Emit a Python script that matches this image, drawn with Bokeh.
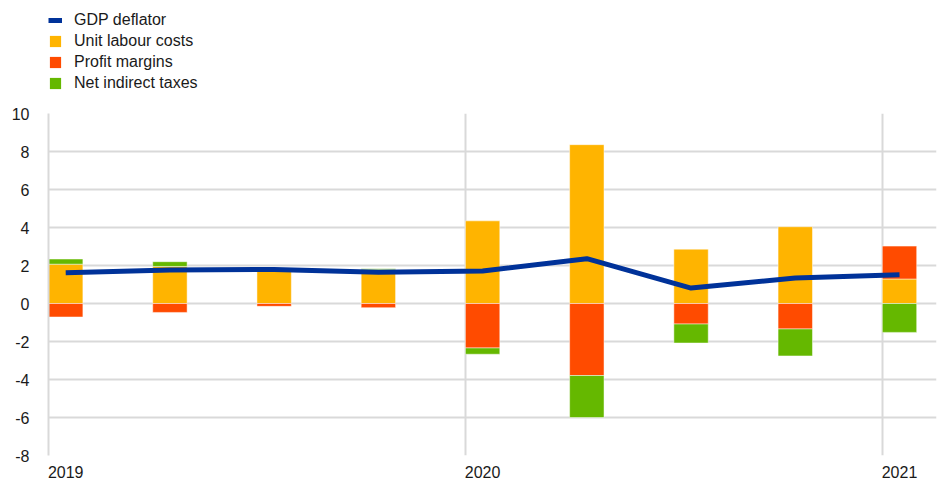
from bokeh.plotting import figure
from bokeh.models import (ColumnDataSource, Legend, LegendItem, FixedTicker,
                          Range1d)
from bokeh.layouts import column
from bokeh.embed import file_html
from bokeh.resources import INLINE

# ---- data ----
quarters = ["2019Q1", "2019Q2", "2019Q3", "2019Q4", "2020Q1",
            "2020Q2", "2020Q3", "2020Q4", "2021Q1"]
unit_labour_costs = [2.07, 1.95, 1.80, 1.78, 4.35, 8.36, 2.86, 4.04, 1.29]
profit_margins = [-0.71, -0.47, -0.15, -0.22, -2.34, -3.79, -1.08, -1.34, 1.73]
net_indirect_taxes = [0.27, 0.25, 0.0, 0.05, -0.33, -2.21, -1.00, -1.42, -1.52]
gdp_deflator = [1.62, 1.76, 1.79, 1.65, 1.71, 2.36, 0.81, 1.34, 1.51]
year_labels = ["2019", "2020", "2021"]
year_positions = [0, 4, 8]
y_ticks = [-8, -6, -4, -2, 0, 2, 4, 6, 8, 10]

series_names = ["Unit labour costs", "Profit margins", "Net indirect taxes"]
series_values = [unit_labour_costs, profit_margins, net_indirect_taxes]
series_colors = ["#FFB400", "#FF4B00", "#65B800"]
line_name = "GDP deflator"
line_color = "#003299"

FONT = "Liberation Sans"
TXT = "#1a1a1a"
GRID = "#d9d9d9"
FS = "16px"
BAR_W = 0.33
W = 940

idx = list(range(len(quarters)))
centers = [i + BAR_W / 2 for i in idx]

# ---------------- main chart ----------------
p = figure(width=W, height=380, output_backend="svg", toolbar_location=None,
           x_range=Range1d(0, 8.52), y_range=Range1d(-8, 10),
           min_border_left=48, min_border_right=4, min_border_top=13,
           min_border_bottom=24)
p.outline_line_color = None
p.background_fill_color = "white"
p.border_fill_color = "white"

# legend strip (separate figure above the chart, frames aligned)
lg = figure(width=W, height=100, output_backend="svg", toolbar_location=None,
            x_range=Range1d(0, 1), y_range=Range1d(100, 101),
            min_border_left=0, min_border_right=0, min_border_top=0,
            min_border_bottom=0)
lg.axis.visible = False
lg.grid.visible = False
lg.outline_line_color = None

bar_sources = []
pos_base = [0.0] * len(idx)
neg_base = [0.0] * len(idx)
for name, vals, col in zip(series_names, series_values, series_colors):
    bottoms, tops = [], []
    for i, v in enumerate(vals):
        if v >= 0:
            b = pos_base[i]
            t = b + v
            pos_base[i] = t
        else:
            b = neg_base[i]
            t = b + v
            neg_base[i] = t
        bottoms.append(b)
        tops.append(t)
    src = ColumnDataSource(dict(x=centers, bottom=bottoms, top=tops))
    bar_sources.append(src)
    p.vbar(x="x", bottom="bottom", top="top", width=BAR_W, source=src,
           fill_color=col, line_color="white", line_width=0.8, line_alpha=0.6)

line_src = ColumnDataSource(dict(x=centers, y=gdp_deflator))
p.line(x="x", y="y", source=line_src, line_color=line_color,
       line_width=5, line_join="round")

p.yaxis.ticker = FixedTicker(ticks=y_ticks)
p.yaxis.major_label_overrides = {t: str(t) for t in y_ticks}
p.yaxis.major_tick_line_color = None
p.yaxis.minor_tick_line_color = None
p.yaxis.axis_line_color = GRID
p.yaxis.axis_line_width = 2
p.yaxis.major_label_text_font = FONT
p.yaxis.major_label_text_font_size = FS
p.yaxis.major_label_text_color = TXT
p.yaxis.major_label_standoff = 13

p.xaxis.ticker = FixedTicker(ticks=[y + BAR_W / 2 for y in year_positions])
p.xaxis.major_label_overrides = {y + BAR_W / 2: lab for y, lab in zip(year_positions, year_labels)}
p.xaxis.major_tick_line_color = None
p.xaxis.minor_tick_line_color = None
p.xaxis.axis_line_color = None
p.xaxis.major_label_text_font = FONT
p.xaxis.major_label_text_font_size = FS
p.xaxis.major_label_text_color = TXT
p.xaxis.major_label_standoff = 4

p.ygrid.grid_line_color = GRID
p.ygrid.grid_line_width = 2
p.xgrid.ticker = FixedTicker(ticks=year_positions)
p.xgrid.grid_line_color = GRID
p.xgrid.grid_line_width = 2

# legend renderers live in the strip figure (out of its visible range)
items = []
lr = lg.line(x="x", y="y", source=line_src, line_color=line_color, line_width=5)
items.append(LegendItem(label=line_name, renderers=[lr]))
for name, col, src in zip(series_names, series_colors, bar_sources):
    r = lg.vbar(x="x", bottom="bottom", top="top", width=BAR_W, source=src,
                fill_color=col, line_color=None)
    items.append(LegendItem(label=name, renderers=[r]))

legend = Legend(items=items, location=(0, 8), orientation="vertical",
                border_line_color=None, background_fill_alpha=0,
                padding=0, margin=0, spacing=3, glyph_width=14,
                glyph_height=14, label_standoff=12,
                label_text_font=FONT, label_text_font_size=FS,
                label_text_color=TXT, label_height=14)
lg.add_layout(legend, "center")

layout = column(lg, p, spacing=0)
open("out.html", "w").write(file_html(layout, INLINE))
